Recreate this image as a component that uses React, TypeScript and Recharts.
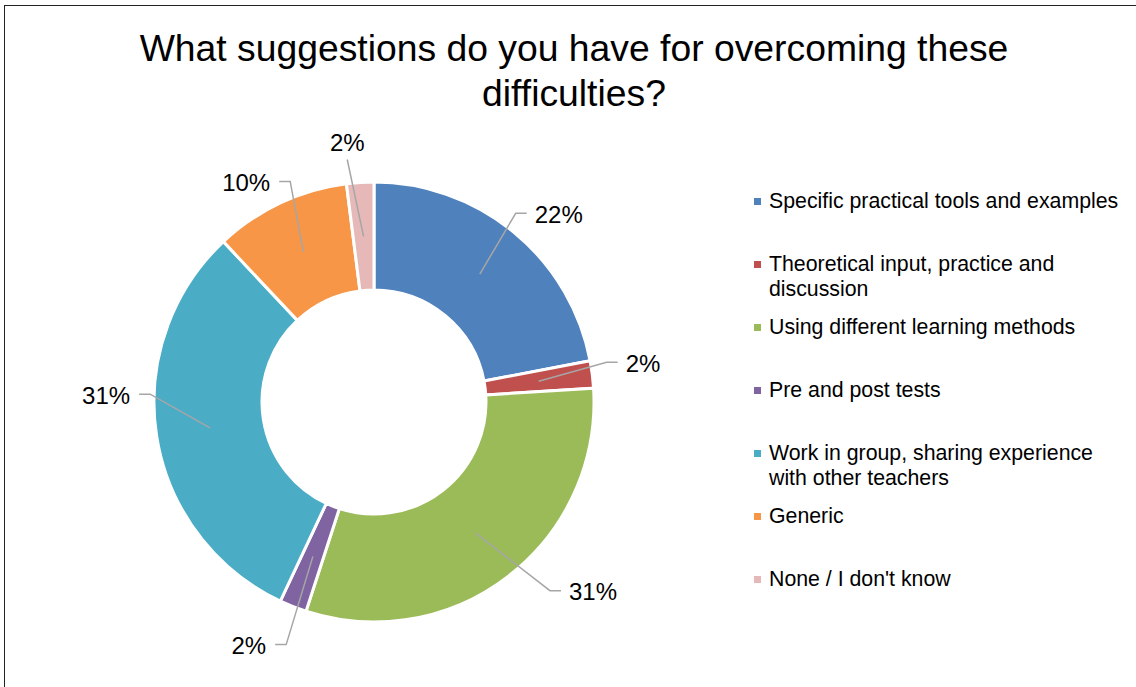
import React from 'react';
import { PieChart, Pie, Cell } from 'recharts';

const CATEGORIES = [
  'Specific practical tools and examples',
  'Theoretical input, practice and discussion',
  'Using different learning methods',
  'Pre and post tests',
  'Work in group, sharing experience with other teachers',
  'Generic',
  "None / I don't know",
];
const VALUES = [22, 2, 31, 2, 31, 10, 2];
const COLORS = ['#4F81BD', '#C0504D', '#9BBB59', '#8064A2', '#4BACC6', '#F79646', '#E6B9B8'];

// label layout (polar angle in degrees, radius in px of the leader-line elbow)
const LABEL_ANGLES = [53.1, 9.7, -47, -109.9, 178, 110.8, 96.3];
const LABEL_RADII = [236, 236, 258, 258, 224, 236, 244];

const DATA = CATEGORIES.map((name, i) => ({ name, value: VALUES[i] }));

const FONT = '"Liberation Sans", Arial, Helvetica, sans-serif';
const RAD = Math.PI / 180;

const renderLabel = (props: any) => {
  const { cx, cy, midAngle, innerRadius, outerRadius, index, value } = props;
  const rs = (Number(innerRadius) + Number(outerRadius)) / 2;
  const sx = cx + rs * Math.cos(-midAngle * RAD);
  const sy = cy + rs * Math.sin(-midAngle * RAD);
  const la = LABEL_ANGLES[index];
  const lr = LABEL_RADII[index];
  const ex = cx + lr * Math.cos(-la * RAD);
  const ey = cy + lr * Math.sin(-la * RAD);
  const top = la > 80 && la < 100;
  if (top) {
    return (
      <g key={`lbl-${index}`}>
        <polyline points={`${sx},${sy} ${ex},${ey}`} fill="none" stroke="#A6A6A6" strokeWidth={1.5} />
        <text x={ex} y={ey - 17} textAnchor="middle" dominantBaseline="central" fontSize={24} fontFamily={FONT} fill="#000">
          {`${value}%`}
        </text>
      </g>
    );
  }
  const right = ex > cx;
  const tx = right ? ex + 11 : ex - 11;
  return (
    <g key={`lbl-${index}`}>
      <polyline points={`${sx},${sy} ${ex},${ey} ${tx},${ey}`} fill="none" stroke="#A6A6A6" strokeWidth={1.5} />
      <text
        x={right ? tx + 8 : tx - 9}
        y={ey + 1}
        textAnchor={right ? 'start' : 'end'}
        dominantBaseline="central"
        fontSize={24}
        fontFamily={FONT}
        fill="#000"
      >
        {`${value}%`}
      </text>
    </g>
  );
};

export default function App() {
  return (
    <div style={{ position: 'absolute', left: 0, top: 0, width: 1136, height: 687, overflow: 'hidden', background: '#fff', fontFamily: FONT }}>
      <div style={{ position: 'absolute', left: 4, top: 5, width: 1200, height: 800, borderLeft: '1.5px solid #222', borderTop: '1.5px solid #222', boxSizing: 'border-box' }} />
      <div
        style={{
          position: 'absolute',
          left: 74,
          width: 1000,
          top: 26,
          textAlign: 'center',
          fontSize: 37.3,
          lineHeight: '45px',
          color: '#000',
        }}
      >
        What suggestions do you have for overcoming these
        <br />
        difficulties?
      </div>
      <div style={{ position: 'absolute', left: 0, top: 0 }}>
        <PieChart width={1136} height={687} margin={{ top: 0, right: 0, bottom: 0, left: 0 }}>
          <Pie
            data={DATA}
            dataKey="value"
            nameKey="name"
            cx={374}
            cy={402}
            innerRadius={112}
            outerRadius={220}
            startAngle={90}
            endAngle={-270}
            stroke="#fff"
            strokeWidth={3}
            label={renderLabel}
            labelLine={false}
            isAnimationActive={false}
          >
            {DATA.map((d, i) => (
              <Cell key={d.name} fill={COLORS[i]} />
            ))}
          </Pie>
        </PieChart>
      </div>
      <div style={{ position: 'absolute', left: 754, top: 188.5, width: 380 }}>
        {CATEGORIES.map((name, i) => (
          <div key={name} style={{ position: 'relative', height: 63 }}>
            <div style={{ position: 'absolute', left: 0, top: 9, width: 7, height: 7, background: COLORS[i] }} />
            <div style={{ position: 'absolute', left: 15, top: 0, width: 362, fontSize: 21.3, lineHeight: '25px', color: '#000' }}>
              {name}
            </div>
          </div>
        ))}
      </div>
    </div>
  );
}
